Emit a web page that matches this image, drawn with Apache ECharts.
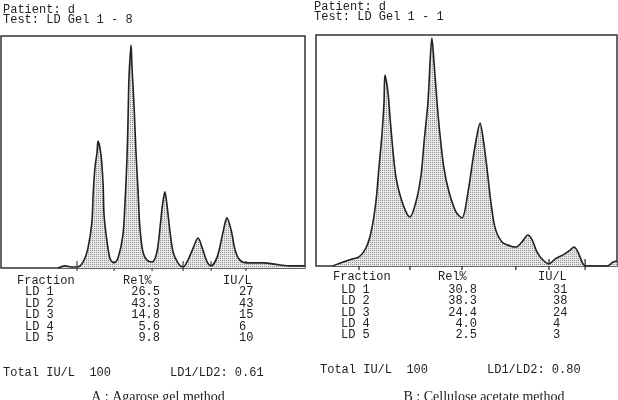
<!DOCTYPE html>
<html>
<head>
<meta charset="utf-8">
<script src="https://cdn.jsdelivr.net/npm/echarts@6/dist/echarts.min.js"></script>
<style>
  html, body { margin: 0; padding: 0; background: #fff; }
  #main { width: 618px; height: 400px; }
</style>
</head>
<body>
<div id="main"></div>
<script>
// densitometer scans: x = relative migration (0-100), y = relative absorbance (0-100)
const scanA = [
  [18.8, 0], [21.1, 0.9], [23.4, 0.4], [25.0, 0.4], [27.0, 2.6], [28.6, 8.6], [29.9, 19.8],
  [30.3, 31.5], [30.9, 43.1], [31.6, 50.0], [31.9, 54.7], [32.9, 48.7], [33.6, 35.8],
  [33.9, 22.8], [34.9, 11.2], [35.9, 3.9], [37.2, 2.2], [38.5, 4.3], [40.1, 14.2],
  [40.8, 28.4], [41.4, 45.7], [41.8, 64.7], [42.1, 81.9], [42.8, 96.1], [43.1, 86.2],
  [43.8, 69.0], [44.4, 50.0], [45.1, 32.8], [45.7, 17.2], [46.7, 6.9], [48.0, 3.4],
  [49.7, 2.6], [51.3, 6.9], [52.3, 17.2], [53.0, 25.9], [53.9, 32.8], [54.6, 27.2],
  [55.6, 15.5], [56.6, 6.9], [58.2, 2.2], [59.9, 0.4], [61.5, 3.4], [63.2, 8.6],
  [64.8, 12.9], [66.4, 7.8], [67.8, 2.6], [69.1, 0.9], [71.1, 4.7], [72.7, 13.4],
  [73.7, 19.4], [74.3, 21.6], [75.7, 16.4], [77.0, 7.8], [78.6, 3.4], [80.9, 2.2],
  [86.2, 2.2], [91.8, 1.3], [95.1, 0.9], [100, 0.9]
];
const cutsA = [25.0, 37.2, 49.7, 59.9, 69.1, 80.6];

const scanB = [
  [5.6, 0], [9.0, 1.7], [12.0, 3.0], [14.3, 3.9], [16.6, 7.8], [18.3, 14.7], [19.9, 27.7],
  [20.9, 42.4], [21.9, 56.7], [22.6, 71.0], [22.9, 82.7], [23.9, 75.3], [24.6, 64.1],
  [25.6, 49.4], [26.6, 38.1], [28.2, 29.4], [29.9, 23.4], [31.2, 21.2], [33.2, 27.7],
  [34.9, 39.4], [35.9, 53.7], [37.2, 71.0], [37.9, 88.3], [38.5, 98.7], [39.2, 88.3],
  [40.2, 71.0], [41.2, 56.7], [42.5, 42.4], [44.2, 32.0], [46.5, 23.4], [48.5, 20.8],
  [50.5, 32.0], [52.2, 46.8], [53.5, 56.7], [54.5, 61.9], [55.5, 55.4], [56.8, 42.4],
  [58.1, 27.7], [59.5, 16.5], [61.8, 10.4], [64.5, 8.7], [66.4, 8.2], [68.4, 10.4],
  [70.4, 13.4], [71.8, 11.3], [73.4, 6.1], [75.4, 2.6], [77.4, 0.9], [79.4, 3.0],
  [82.1, 4.8], [84.4, 6.9], [85.7, 8.2], [87.0, 6.1], [88.7, 0.9], [89.7, 0],
  [96.7, 0], [98.7, 1.7], [100, 2.2]
];
const cutsB = [[14.3, 3.9], [31.2, 21.2], [48.5, 20.8], [66.4, 8.2], [77.4, 0.9], [89.4, 0]];

const fractions = ['LD 1', 'LD 2', 'LD 3', 'LD 4', 'LD 5'];
const relA = ['26.5', '43.3', '14.8', '5.6', '9.8'];
const iuA = ['27', '43', '15', '6', '10'];
const relB = ['30.8', '38.3', '24.4', '4.0', '2.5'];
const iuB = ['31', '38', '24', '4', '3'];
const totalA = '100', ratioA = '0.61';
const totalB = '100', ratioB = '0.80';

// stipple fill like the printer output
const pat = document.createElement('canvas');
pat.width = 2; pat.height = 2;
const pc = pat.getContext('2d');
pc.fillStyle = '#e8e8e8'; pc.fillRect(0, 0, 2, 2);
pc.fillStyle = '#909090'; pc.fillRect(0, 0, 1, 1);

const mono = 'Liberation Mono, DejaVu Sans Mono, monospace';
const ink = '#222';

function txt(x, y, s, align) {
  return {
    type: 'text', x: x, y: y,
    style: { text: s, font: '12px ' + mono, fill: ink, textAlign: align || 'left', textVerticalAlign: 'middle' }
  };
}

function table(x0, yHead, rowY, step, rel, iu, total, ratio, yTot) {
  const g = [];
  g.push(txt(x0.frac, yHead, 'Fraction'));
  g.push(txt(x0.relHead, yHead, 'Rel%'));
  g.push(txt(x0.iuHead, yHead, 'IU/L'));
  fractions.forEach((f, i) => {
    const y = rowY + i * step;
    g.push(txt(x0.ld, y, f));
    g.push(txt(x0.rel, y, rel[i], 'right'));
    g.push(txt(x0.iu, y, iu[i]));
  });
  g.push(txt(x0.tot, yTot, 'Total IU/L  ' + total));
  g.push(txt(x0.ratio, yTot, 'LD1/LD2: ' + ratio));
  return g;
}

const chart = echarts.init(document.getElementById('main'));

const axisX = i => ({ type: 'value', gridIndex: i, min: 0, max: 100, show: false });
const axisY = i => ({ type: 'value', gridIndex: i, min: 0, max: 100, show: false });

const caption = (x, s) => ({
  type: 'text', x: x, y: 390,
  style: { text: s, font: '14px Liberation Serif, serif', fill: ink, textAlign: 'center', textVerticalAlign: 'top' }
});

const graphics = []
  .concat([
    txt(3, 10, 'Patient: d'), txt(3, 20, 'Test: LD Gel 1 - 8'),
    txt(314, 7, 'Patient: d'), txt(314, 17, 'Test: LD Gel 1 - 1')
  ])
  .concat(table({ frac: 17, relHead: 123, iuHead: 223, ld: 25, rel: 160, iu: 239, tot: 3, ratio: 170 },
    281, 292, 11.5, relA, iuA, totalA, ratioA, 373))
  .concat(table({ frac: 333, relHead: 438, iuHead: 538, ld: 341, rel: 477, iu: 553, tot: 320, ratio: 487 },
    277, 290, 11.3, relB, iuB, totalB, ratioB, 370))
  .concat([caption(158, 'A : Agarose gel method'), caption(484, 'B : Cellulose acetate method')]);

const scanLine = (i, data) => ({
  type: 'line', xAxisIndex: i, yAxisIndex: i, data: data, showSymbol: false,
  smooth: 0.3,
  lineStyle: { color: ink, width: 1.6 },
  areaStyle: { color: { image: pat, repeat: 'repeat' }, opacity: 1 }
});

chart.setOption({
  animation: false,
  grid: [
    { left: 1, top: 36, width: 304, height: 232, show: true, borderColor: '#333', borderWidth: 1.5, backgroundColor: '#fff' },
    { left: 316, top: 35, width: 301, height: 231, show: true, borderColor: '#333', borderWidth: 1.5, backgroundColor: '#fff' }
  ],
  xAxis: [axisX(0), axisX(1)],
  yAxis: [axisY(0), axisY(1)],
  series: [
    scanLine(0, scanA),
    scanLine(1, scanB),
    {
      type: 'custom', xAxisIndex: 0, yAxisIndex: 0, clip: false,
      data: cutsA.map(x => [x, 0]),
      renderItem: (params, api) => {
        const p = api.coord([api.value(0), 0]);
        return { type: 'line', shape: { x1: p[0], y1: p[1] - 7, x2: p[0], y2: p[1] + 3 }, style: { stroke: ink, lineWidth: 1 } };
      }
    },
    {
      type: 'custom', xAxisIndex: 1, yAxisIndex: 1, clip: false,
      data: cutsB,
      renderItem: (params, api) => {
        const p0 = api.coord([api.value(0), 0]);
        const p1 = api.coord([api.value(0), api.value(1)]);
        return { type: 'line', shape: { x1: p0[0], y1: p0[1] + 4, x2: p1[0], y2: Math.min(p1[1], p0[1] - 7) }, style: { stroke: ink, lineWidth: 1.2 } };
      }
    }
  ],
  graphic: graphics
});
</script>
</body>
</html>
